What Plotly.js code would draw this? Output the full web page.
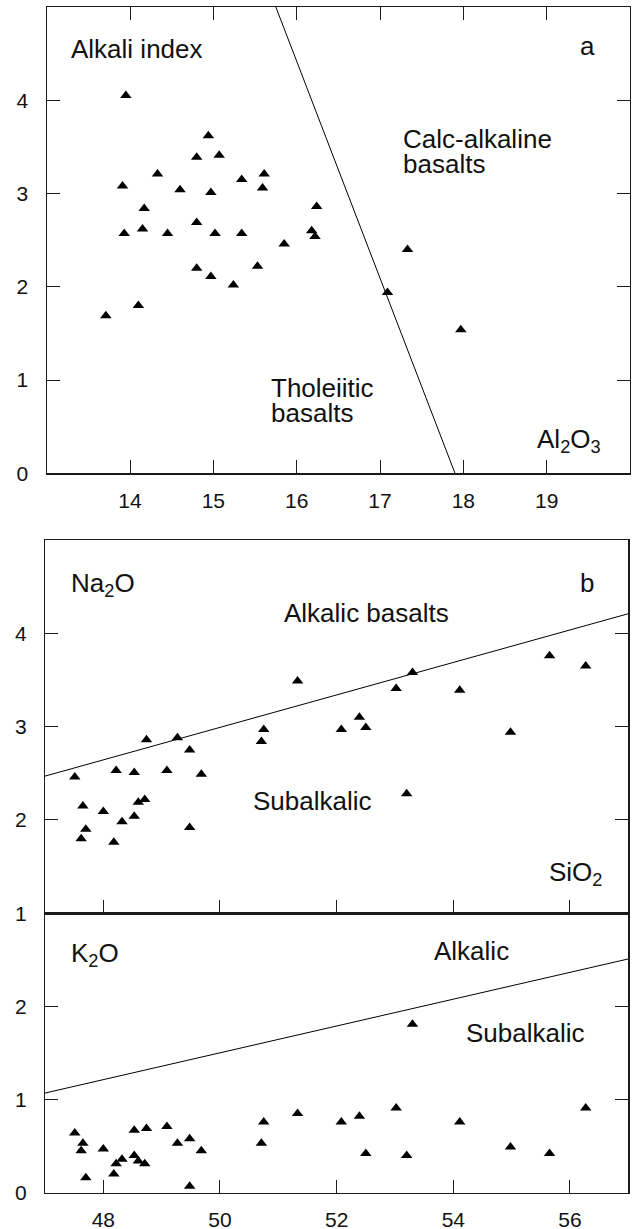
<!DOCTYPE html>
<html>
<head>
<meta charset="utf-8">
<script src="https://cdn.plot.ly/plotly-3.0.1.min.js"></script>
<style>html,body{margin:0;padding:0;background:#fff;}#chart{width:634px;height:1229px;}</style>
</head>
<body>
<div id="chart"></div>
<script>
// ---- Panel a: Alkali index vs Al2O3 ----
const aAl2O3 = [13.95, 14.94, 14.80, 15.07, 14.33, 13.91, 14.60, 14.97, 15.34, 15.61, 15.59,
  14.17, 16.24, 13.93, 14.15, 14.45, 14.80, 15.02, 15.34, 16.18, 16.22, 15.85, 14.80,
  14.97, 15.24, 15.53, 13.71, 14.10, 17.33, 17.09, 17.97];
const aAlkaliIndex = [4.05, 3.62, 3.39, 3.41, 3.21, 3.08, 3.04, 3.01, 3.15, 3.21, 3.06,
  2.84, 2.86, 2.57, 2.62, 2.57, 2.69, 2.57, 2.57, 2.60, 2.54, 2.46, 2.20,
  2.11, 2.02, 2.22, 1.69, 1.80, 2.40, 1.94, 1.54];
const aBoundaryAl2O3 = [15.75, 17.9];
const aBoundaryAlk = [5, 0];
const aXTicks = [14, 15, 16, 17, 18, 19];
const aYTicks = [0, 1, 2, 3, 4];

// ---- Panels b and c: Na2O and K2O vs SiO2 ----
const sio2 = [47.51, 47.65, 47.62, 47.70, 48.00, 48.18, 48.22, 48.32, 48.53, 48.53, 48.60,
  48.71, 48.74, 49.09, 49.27, 49.48, 49.68, 49.48, 50.75, 50.71, 51.33, 52.08, 52.39,
  52.50, 53.02, 53.20, 53.30, 54.11, 54.98, 55.65, 56.27];
const na2o = [2.46, 2.15, 1.80, 1.90, 2.09, 1.76, 2.53, 1.98, 2.51, 2.04, 2.19,
  2.22, 2.86, 2.53, 2.88, 2.75, 2.49, 1.92, 2.97, 2.84, 3.49, 2.97, 3.10,
  2.99, 3.41, 2.28, 3.58, 3.39, 2.94, 3.76, 3.65];
const k2o = [0.64, 0.53, 0.45, 0.16, 0.47, 0.20, 0.31, 0.36, 0.67, 0.40, 0.34,
  0.31, 0.69, 0.71, 0.53, 0.58, 0.45, 0.07, 0.76, 0.53, 0.85, 0.76, 0.82,
  0.42, 0.91, 0.40, 1.81, 0.76, 0.49, 0.42, 0.91];
const bBoundarySiO2 = [47, 57];
const bBoundaryNa2O = [2.47, 4.21];
const cBoundarySiO2 = [47, 57];
const cBoundaryK2O = [1.07, 2.51];
const bYTicks = [1, 2, 3, 4];
const cYTicks = [0, 1, 2];
const cXTicks = [48, 50, 52, 54, 56];

// ---- layout geometry (pixels) ----
const W = 634, H = 1229;
const M = {l: 45, r: 4, t: 7, b: 36};
const PW = W - M.l - M.r, PH = H - M.t - M.b;
const px = x => (x - M.l) / PW;
const py = y => (H - M.b - y) / PH;

const FONT = 'Liberation Sans, Arial, Helvetica, sans-serif';
const INK = '#1a1a1a';

const markerStyle = {symbol: 'triangle-up', size: 10, color: '#000', line: {width: 0}};

const traces = [
  {x: aAl2O3, y: aAlkaliIndex, xaxis: 'x', yaxis: 'y', mode: 'markers', type: 'scatter', marker: markerStyle},
  {x: aBoundaryAl2O3, y: aBoundaryAlk, xaxis: 'x', yaxis: 'y', mode: 'lines', type: 'scatter', line: {color: '#000', width: 1}},
  {x: sio2, y: na2o, xaxis: 'x2', yaxis: 'y2', mode: 'markers', type: 'scatter', marker: markerStyle},
  {x: bBoundarySiO2, y: bBoundaryNa2O, xaxis: 'x2', yaxis: 'y2', mode: 'lines', type: 'scatter', line: {color: '#000', width: 1}},
  {x: sio2, y: k2o, xaxis: 'x3', yaxis: 'y3', mode: 'markers', type: 'scatter', marker: markerStyle},
  {x: cBoundarySiO2, y: cBoundaryK2O, xaxis: 'x3', yaxis: 'y3', mode: 'lines', type: 'scatter', line: {color: '#000', width: 1}}
];

const baseAxis = {
  showline: true, linecolor: INK, linewidth: 1.2,
  ticks: 'inside', ticklen: 13, tickwidth: 1, tickcolor: INK,
  showgrid: false, zeroline: false, fixedrange: true,
  tickfont: {family: FONT, size: 21, color: '#111'}
};
const xStandoff = 8, yStandoff = 13;

const layout = {
  width: W, height: H, margin: M,
  paper_bgcolor: '#fff', plot_bgcolor: '#fff',
  showlegend: false,
  font: {family: FONT, color: '#111'},
  xaxis: Object.assign({}, baseAxis, {anchor: 'y', domain: [px(46.7), px(630)], range: [13, 20],
    tickmode: 'array', tickvals: aXTicks, ticktext: aXTicks.map(String), mirror: 'ticks', ticklabelstandoff: xStandoff}),
  yaxis: Object.assign({}, baseAxis, {anchor: 'x', domain: [py(473.3), py(7)], range: [0, 5],
    tickmode: 'array', tickvals: aYTicks, ticktext: aYTicks.map(String), mirror: 'ticks', ticklabelstandoff: yStandoff}),
  xaxis2: Object.assign({}, baseAxis, {anchor: 'y2', domain: [px(45), px(628.3)], range: [47, 57],
    tickmode: 'array', tickvals: cXTicks, showticklabels: false, mirror: true}),
  yaxis2: Object.assign({}, baseAxis, {anchor: 'x2', domain: [py(913.3), py(540)], range: [1, 5],
    tickmode: 'array', tickvals: bYTicks, ticktext: bYTicks.map(String), mirror: 'ticks', ticklabelstandoff: yStandoff}),
  xaxis3: Object.assign({}, baseAxis, {anchor: 'y3', domain: [px(45), px(628.3)], range: [47, 57],
    tickmode: 'array', tickvals: cXTicks, ticktext: cXTicks.map(String), mirror: true, ticklabelstandoff: xStandoff}),
  yaxis3: Object.assign({}, baseAxis, {anchor: 'x3', domain: [py(1192.7), py(913.3)], range: [0, 3],
    tickmode: 'array', tickvals: cYTicks, ticktext: cYTicks.map(String), mirror: 'ticks', ticklabelstandoff: yStandoff}),
  annotations: []
};

function note(text, x, y, xanchor) {
  layout.annotations.push({
    text: text, xref: 'paper', yref: 'paper', x: px(x), y: py(y),
    xanchor: xanchor || 'left', yanchor: 'middle', align: 'left', showarrow: false,
    font: {family: FONT, size: 26, color: '#111'}
  });
}
note('Alkali index', 69, 49);
note('a', 597, 46, 'right');
note('Calc-alkaline', 401, 139);
note('basalts', 401, 164);
note('Tholeiitic', 269, 388);
note('basalts', 269, 413);
note('Al<sub>2</sub>O<sub>3</sub>', 535, 440);
note('Na<sub>2</sub>O', 69, 584);
note('b', 596, 583, 'right');
note('Alkalic basalts', 282, 613);
note('Subalkalic', 251, 801);
note('SiO<sub>2</sub>', 547, 874);
note('K<sub>2</sub>O', 69, 954);
note('Alkalic', 432, 951);
note('Subalkalic', 464, 1033);

Plotly.newPlot('chart', traces, layout, {staticPlot: true, displayModeBar: false});
</script>
</body>
</html>
